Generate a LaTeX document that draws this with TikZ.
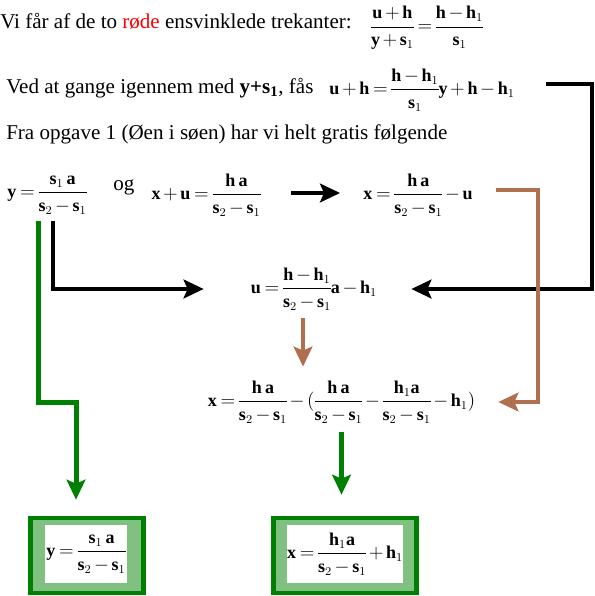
\documentclass[tikz,border=0pt]{standalone}
\usepackage{amsmath}
\usepackage{fontspec}
\setmainfont{Liberation Serif}
\usetikzlibrary{arrows.meta, calc}

\definecolor{boxgreen}{RGB}{0,128,0}
\definecolor{brun}{RGB}{176,112,80}
\colorlet{boxchk}{boxgreen!50!white}

% fraction with the loose spacing of the original
\newcommand{\fr}[2]{\dfrac{#1\rule[-3pt]{0pt}{0pt}}{\rule{0pt}{12pt}#2}}
\newcommand{\eqfont}{\fontsize{13.5}{17}\selectfont\nulldelimiterspace=0pt\relax
  \medmuskip=2.5mu\relax\thickmuskip=3.5mu\relax}

\tikzset{
  txt/.style={inner sep=0pt, anchor=west},
  eq/.style={inner sep=0pt, font=\eqfont},
  boxin/.style={eq, fill=white, minimum width=61.5pt, minimum height=43.5pt},
  tip/.style={-{Stealth[length=15pt, width=14pt, inset=3pt]}},
  blk/.style={tip, line width=3.5pt},
  grn/.style={tip, boxgreen, line width=3.75pt},
  brn/.style={tip, brun, line width=3pt},
}

\begin{document}
\begin{tikzpicture}[x=0.75pt, y=-0.75pt, font=\fontsize{15.8}{19}\selectfont]
\useasboundingbox (0,0) rectangle (595,596);

% ---- text lines ---------------------------------------------------------
\node[txt] (lTri) at (0,21) {Vi får af de to \textcolor{red}{røde} ensvinklede trekanter:};
\node[eq] (eqTri) at (427,28)
  {$\fr{\mathbf{u+h}}{\mathbf{y}+\mathbf{s}_1}=\fr{\mathbf{h}-\mathbf{h}_1}{\mathbf{s}_1}$};

\node[txt] (lGange) at (6,88) {Ved at gange igennem med \textbf{y+s\textsubscript{1}}, fås};
\node[eq] (eqGange) at (422,90)
  {$\mathbf{u+h}=\fr{\mathbf{h}-\mathbf{h}_1}{\mathbf{s}_1}\mathbf{y}+\mathbf{h}-\mathbf{h}_1$};

\node[txt] (lOpg) at (6,134) {Fra opgave 1 (Øen i søen) har vi helt gratis følgende};

% ---- row of given results -----------------------------------------------
\node[eq] (eqY) at (47,195) {$\mathbf{y}=\fr{\mathbf{s}_1\,\mathbf{a}}{\mathbf{s}_2-\mathbf{s}_1}$};
\node[txt] (lOg) at (113,187) {og};
\node[eq] (eqXU) at (206,195) {$\mathbf{x+u}=\fr{\mathbf{h\,a}}{\mathbf{s}_2-\mathbf{s}_1}$};
\node[eq] (eqX) at (418,195) {$\mathbf{x}=\fr{\mathbf{h\,a}}{\mathbf{s}_2-\mathbf{s}_1}-\mathbf{u}$};

% ---- derived ------------------------------------------------------------
\node[eq] (eqU) at (314,289)
  {$\mathbf{u}=\fr{\mathbf{h}-\mathbf{h}_1}{\mathbf{s}_2-\mathbf{s}_1}\mathbf{a}-\mathbf{h}_1$};
\node[eq] (eqXfull) at (341.5,402)
  {$\mathbf{x}=\fr{\mathbf{h\,a}}{\mathbf{s}_2-\mathbf{s}_1}-(\fr{\mathbf{h\,a}}{\mathbf{s}_2-\mathbf{s}_1}-\fr{\mathbf{h}_1\mathbf{a}}{\mathbf{s}_2-\mathbf{s}_1}-\mathbf{h}_1)$};

% ---- result boxes -------------------------------------------------------
\fill[boxgreen] (28,516) rectangle (146,595);
\fill[boxchk] (33,520) rectangle (141,591);
\node[boxin] (boxY) at (86,554) {$\mathbf{y}=\fr{\mathbf{s}_1\,\mathbf{a}}{\mathbf{s}_2-\mathbf{s}_1}$};

\fill[boxgreen] (271,516) rectangle (419,595);
\fill[boxchk] (276,520) rectangle (414,591);
\node[boxin, minimum width=85.5pt] (boxX) at (345,554)
  {$\mathbf{x}=\fr{\mathbf{h}_1\mathbf{a}}{\mathbf{s}_2-\mathbf{s}_1}+\mathbf{h}_1$};

% ---- connectors ---------------------------------------------------------
\coordinate (gR) at (546,84);
\coordinate (gC) at (592,289);
\draw[blk] (gR) -| (gC) -- ($(eqU.east)+(34,0)$);

\draw[blk] ($(eqXU.east)+(30,-2)$) -- ($(eqX.west)+(-23,-2)$);

\coordinate (yB) at (53,221);
\draw[blk] (yB) |- ($(eqU.west)+(-47,0)$);

\coordinate (yG) at (38,221);
\coordinate (gK) at (76,402);
\draw[grn] (yG) |- (gK) -- ($(boxY.north)+(-10,-25)$);

\draw[brn] ($(eqX.east)+(23,-5)$) -| ($(eqXfull.east)+(63,0)$) -- ($(eqXfull.east)+(23,0)$);

\draw[brn] ($(eqU.south)+(-11,8)$) -- ($(eqXfull.north)+(-38.5,-14)$);

\draw[grn] ($(eqXfull.south)+(0,9)$) -- ($(eqXfull.south |- boxX.north)+(0,-30)$);

\end{tikzpicture}
\end{document}
